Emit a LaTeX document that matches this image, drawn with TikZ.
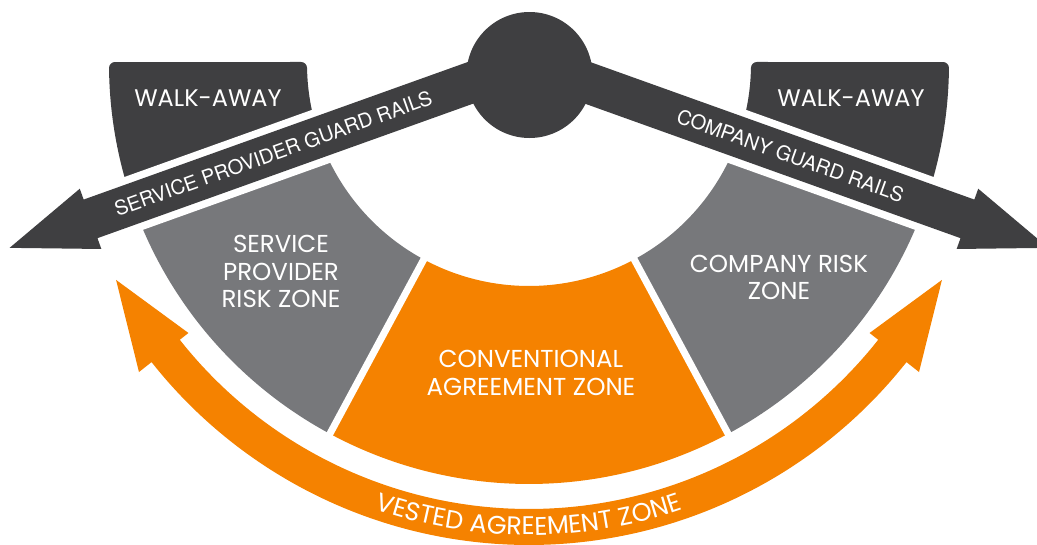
\documentclass[tikz,border=0pt]{standalone}
\usepackage{fontspec}
\setmainfont{Poppins}
\newfontfamily\barfont{TeX Gyre Heros}
\usetikzlibrary{decorations.text}
\definecolor{darkg}{HTML}{3F3F41}
\definecolor{midg}{HTML}{77787B}
\definecolor{orng}{HTML}{F58200}
\begin{document}
\begin{tikzpicture}[x=1pt,y=1pt,
  zonelabel/.style={text=white, align=center, inner sep=0pt, font=\fontsize{24.5}{27.5}\selectfont},
  walklabel/.style={text=white, inner sep=0pt, font=\fontsize{24}{28}\selectfont},
  barlabel/.style={text=white, inner sep=0pt, font=\barfont\fontsize{20}{24}\selectfont},
  gapline/.style={white, line width=7pt},
  walkbox/.style={fill=darkg, draw=darkg, line width=12pt, line join=round},
  barout/.style={draw=white, line width=15pt, line join=round},
  barfill/.style={fill=darkg},
]
\useasboundingbox (0,0) rectangle (1037,-544);
\clip (0,0) rectangle (1037,-544);
\coordinate (O) at (529,-64);
\begin{scope}[shift={(O)}]
  % zones
  \fill[midg] (199.7:222) arc[start angle=199.7,end angle=241.7,radius=222] -- (241.7:420) arc[start angle=241.7,end angle=199.7,radius=420] -- cycle;
  \fill[orng] (241.7:222) arc[start angle=241.7,end angle=298.3,radius=222] -- (298.3:420) arc[start angle=298.3,end angle=241.7,radius=420] -- cycle;
  \fill[midg] (298.3:222) arc[start angle=298.3,end angle=340.3,radius=222] -- (340.3:420) arc[start angle=340.3,end angle=298.3,radius=420] -- cycle;
  \draw[gapline] (241.7:215) -- (241.7:427);
  \draw[gapline] (298.3:215) -- (298.3:427);
  % walk-away boxes
  \path[walkbox] (180.554:414) arc[start angle=180.554,end angle=198.87,radius=414] -- (198.19:228) arc[start angle=198.19,end angle=181.005,radius=228] -- cycle;
  \path[walkbox] (-0.554:414) arc[start angle=-0.554,end angle=-18.87,radius=414] -- (-18.19:228) arc[start angle=-18.19,end angle=-1.005,radius=228] -- cycle;
  % bars: white outlines
  \begin{scope}[rotate=19.7]
    \path[barout] (0,22.5) -- (-465,22.5) -- (-465,34) -- (-551,2) -- (-465,-30) -- (-465,-18.5) -- (0,-18.5) -- cycle;
  \end{scope}
  \begin{scope}[rotate=-19.7]
    \path[barout] (0,22.5) -- (465,22.5) -- (465,34) -- (551,2) -- (465,-30) -- (465,-18.5) -- (0,-18.5) -- cycle;
  \end{scope}
  \begin{scope}[rotate=19.7]
    \path[barfill] (0,22.5) -- (-465,22.5) -- (-465,34) -- (-551,2) -- (-465,-30) -- (-465,-18.5) -- (0,-18.5) -- cycle;
    \node[barlabel, transform shape] (spgr) at (-271,2) {SERVICE PROVIDER GUARD RAILS};
  \end{scope}
  \begin{scope}[rotate=-19.7]
    \path[barfill] (0,22.5) -- (465,22.5) -- (465,34) -- (551,2) -- (465,-30) -- (465,-18.5) -- (0,-18.5) -- cycle;
    \node[barlabel, transform shape] (cgr) at (277,2) {COMPANY GUARD RAILS};
  \end{scope}
  % pivot
  \fill[darkg] (0.5,-11) circle[radius=63];
  % vested band
  \fill[orng] (218.3:445) arc[start angle=218.3,end angle=321.7,radius=445] -- (321.7:434) -- (332.4:466) -- (321.7:497) -- (321.7:481) arc[start angle=321.7,end angle=218.3,radius=481] -- (218.3:497) -- (207.6:466) -- (218.3:434) -- cycle;
  \path[decorate, decoration={text along path, text align=center,
     text={|\fontsize{25.5}{28}\selectfont\color{white}|VESTED AGREEMENT ZONE}}]
     (235:471) arc[start angle=235,end angle=305,radius=471];
\end{scope}
% labels
\node[walklabel] (wa1) at (208,-98.5) {WALK-AWAY};
\node[walklabel] (wa2) at (851,-98.5) {WALK-AWAY};
\node[zonelabel] (sprz) at (281,-271.5) {SERVICE\\PROVIDER\\RISK ZONE};
\node[zonelabel] (crz) at (779,-277.5) {COMPANY RISK\\ZONE};
\node[zonelabel] (caz) at (531,-373) {CONVENTIONAL\\AGREEMENT ZONE};
\end{tikzpicture}
\end{document}
